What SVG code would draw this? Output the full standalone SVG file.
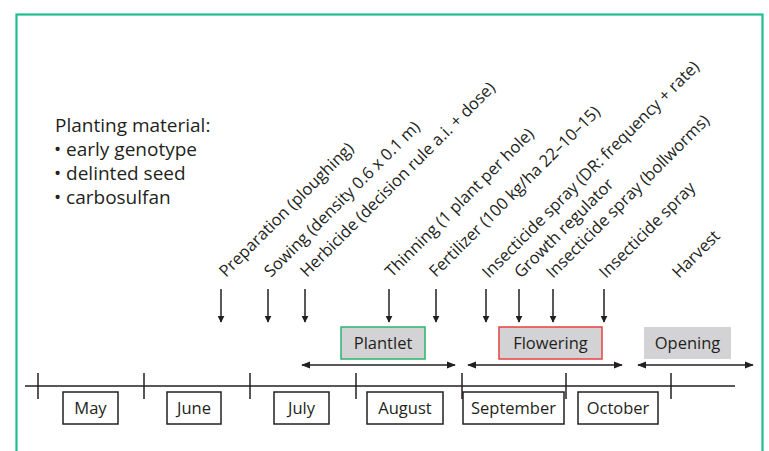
<svg xmlns="http://www.w3.org/2000/svg" width="769" height="451" viewBox="0 0 769 451">
<defs>
<style>
text{font-family:"Open Sans","Noto Sans","Liberation Sans",sans-serif;fill:#231f20;}
.lbl{font-size:16.5px;}
.mat{font-size:19px;}
.mon{font-size:16.5px;text-anchor:middle;}
.box{fill:#fff;stroke:#231f20;stroke-width:1.5;}
.ln{stroke:#231f20;stroke-width:1.5;fill:none;}
</style>
<marker id="ah" viewBox="0 0 10 10" refX="9" refY="5" markerWidth="7" markerHeight="7" markerUnits="userSpaceOnUse" orient="auto-start-reverse">
<path d="M0,0 L10,5 L0,10 z" fill="#231f20"/>
</marker>
<marker id="dh" viewBox="0 0 10 10" refX="9" refY="5" markerWidth="9" markerHeight="9" markerUnits="userSpaceOnUse" orient="auto-start-reverse">
<path d="M0,1 L10,5 L0,9 z" fill="#231f20"/>
</marker>
</defs>
<rect x="16.5" y="14.5" width="746" height="460" fill="#fff" stroke="#1dbf8e" stroke-width="2.2"/>

<g id="material">
<text class="mat" x="55" y="132">Planting material:</text>
<text class="mat" x="54" y="156">• early genotype</text>
<text class="mat" x="54" y="180">• delinted seed</text>
<text class="mat" x="54" y="204">• carbosulfan</text>
</g>

<g id="labels">
<text class="lbl" transform="translate(226,278) rotate(-45)">Preparation (ploughing)</text>
<text class="lbl" transform="translate(271,278) rotate(-45)">Sowing (density 0.6 x 0.1 m)</text>
<text class="lbl" transform="translate(307,278) rotate(-45)">Herbicide (decision rule a.i. + dose)</text>
<text class="lbl" transform="translate(392,278) rotate(-45)">Thinning (1 plant per hole)</text>
<text class="lbl" transform="translate(436,278) rotate(-45)">Fertilizer (100 kg/ha 22–10–15)</text>
<text class="lbl" transform="translate(489,279) rotate(-45)">Insecticide spray (DR: frequency + rate)</text>
<text class="lbl" transform="translate(521,279) rotate(-45)">Growth regulator</text>
<text class="lbl" transform="translate(553,279) rotate(-45)">Insecticide spray (bollworms)</text>
<text class="lbl" transform="translate(606,279) rotate(-45)">Insecticide spray</text>
<text class="lbl" transform="translate(679,279) rotate(-45)">Harvest</text>
</g>

<g id="connectors">
<line class="ln" x1="221" y1="289" x2="221" y2="322" marker-end="url(#ah)"/>
<line class="ln" x1="268" y1="289" x2="268" y2="322" marker-end="url(#ah)"/>
<line class="ln" x1="305" y1="289" x2="305" y2="322" marker-end="url(#ah)"/>
<line class="ln" x1="389" y1="289" x2="389" y2="322" marker-end="url(#ah)"/>
<line class="ln" x1="436" y1="289" x2="436" y2="322" marker-end="url(#ah)"/>
<line class="ln" x1="486" y1="289" x2="486" y2="322" marker-end="url(#ah)"/>
<line class="ln" x1="519" y1="289" x2="519" y2="322" marker-end="url(#ah)"/>
<line class="ln" x1="553" y1="289" x2="553" y2="322" marker-end="url(#ah)"/>
<line class="ln" x1="604" y1="289" x2="604" y2="322" marker-end="url(#ah)"/>
<line class="ln" x1="302" y1="365" x2="455" y2="365" marker-start="url(#dh)" marker-end="url(#dh)"/>
<line class="ln" x1="468" y1="365" x2="622" y2="365" marker-start="url(#dh)" marker-end="url(#dh)"/>
<line class="ln" x1="638" y1="365" x2="753" y2="365" marker-start="url(#dh)" marker-end="url(#dh)"/>
</g>

<g id="phases">
<g id="plantlet"><rect x="341" y="327" width="84" height="32" fill="#d3d3d5" stroke="#2db36b" stroke-width="1.5"/><text class="mon" x="383" y="349">Plantlet</text></g>
<g id="flowering"><rect x="499" y="327" width="103" height="32" fill="#d3d3d5" stroke="#e8413f" stroke-width="1.5"/><text class="mon" x="550.5" y="349">Flowering</text></g>
<g id="opening"><rect x="644" y="327" width="87" height="32" fill="#d3d3d5"/><text class="mon" x="687.5" y="349">Opening</text></g>
</g>

<g id="axis">
<line class="ln" x1="25" y1="386" x2="735" y2="386"/>
<line class="ln" x1="38" y1="373" x2="38" y2="399"/>
<line class="ln" x1="144" y1="373" x2="144" y2="399"/>
<line class="ln" x1="250" y1="373" x2="250" y2="399"/>
<line class="ln" x1="356" y1="373" x2="356" y2="399"/>
<line class="ln" x1="462" y1="373" x2="462" y2="399"/>
<line class="ln" x1="566" y1="373" x2="566" y2="399"/>
<line class="ln" x1="671" y1="373" x2="671" y2="399"/>
</g>

<g id="months">
<g id="may"><rect class="box" x="63" y="392" width="55" height="32"/><text class="mon" x="90.5" y="414">May</text></g>
<g id="june"><rect class="box" x="167" y="392" width="54" height="32"/><text class="mon" x="194" y="414">June</text></g>
<g id="july"><rect class="box" x="274" y="392" width="55" height="32"/><text class="mon" x="301.5" y="414">July</text></g>
<g id="august"><rect class="box" x="367" y="392" width="76" height="32"/><text class="mon" x="405" y="414">August</text></g>
<g id="september"><rect class="box" x="463" y="392" width="101" height="32"/><text class="mon" x="513.5" y="414">September</text></g>
<g id="october"><rect class="box" x="578" y="392" width="80" height="32"/><text class="mon" x="618" y="414">October</text></g>
</g>
</svg>
